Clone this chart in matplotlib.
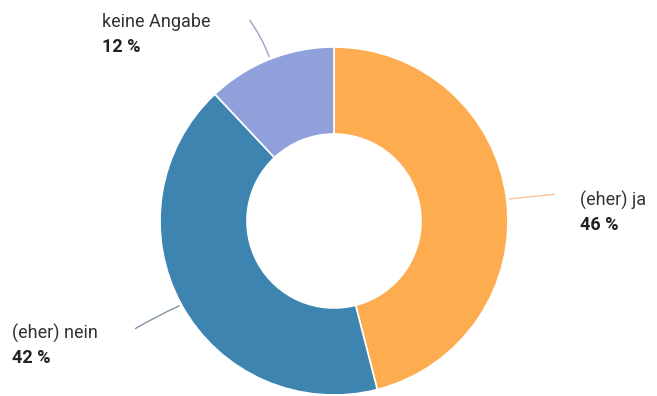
import numpy as np
import matplotlib.pyplot as plt

labels = ['(eher) ja', '(eher) nein', 'keine Angabe']
shares = [46, 42, 12]
colors = ['#fdac4f', '#3e84b0', '#8fa0da']
line_colors = ['#f3c79a', '#7f93a8', '#9aa3c8']
line_bend = [0.0, -0.03, -0.08]

# label anchor (end of leader line) and text position, in pixels
line_ends = [(557, 194), (133, 330), (248, 18)]
text_pos = [(580, 200), (12, 333), (102, 22)]

W, H = 657, 396
cx, cy, R = 334, 221, 174

plt.rcParams['font.family'] = ['Roboto', 'DejaVu Sans']
fig = plt.figure(figsize=(W / 100, H / 100), dpi=100)
ax = fig.add_axes([0, 0, 1, 1])

wedges, _ = ax.pie(shares, colors=colors, startangle=90, counterclock=False,
                   center=(cx, H - cy), radius=R,
                   wedgeprops=dict(width=R * 0.5, edgecolor='white', linewidth=1.2))

# pie() resets the limits, so set them afterwards
ax.set_xlim(0, W)
ax.set_ylim(0, H)
ax.set_aspect('equal')
ax.axis('off')

for w, lab, val, end, tp, lc, rad in zip(wedges, labels, shares, line_ends,
                                         text_pos, line_colors, line_bend):
    mid = np.deg2rad((w.theta1 + w.theta2) / 2)
    sx = cx + R * np.cos(mid)
    sy = (H - cy) + R * np.sin(mid)
    ax.annotate('', xy=(sx, sy), xytext=(end[0], H - end[1]),
                arrowprops=dict(arrowstyle='-', color=lc, lw=1,
                                connectionstyle=f'arc3,rad={rad}'), zorder=0)
    ax.text(tp[0], H - tp[1], lab, fontsize=13, color='#333333', va='center', ha='left')
    ax.text(tp[0], H - tp[1] - 25, f'{val} %', fontsize=13, fontweight='bold',
            color='#222222', va='center', ha='left')

fig.savefig('out.png', dpi=100)
